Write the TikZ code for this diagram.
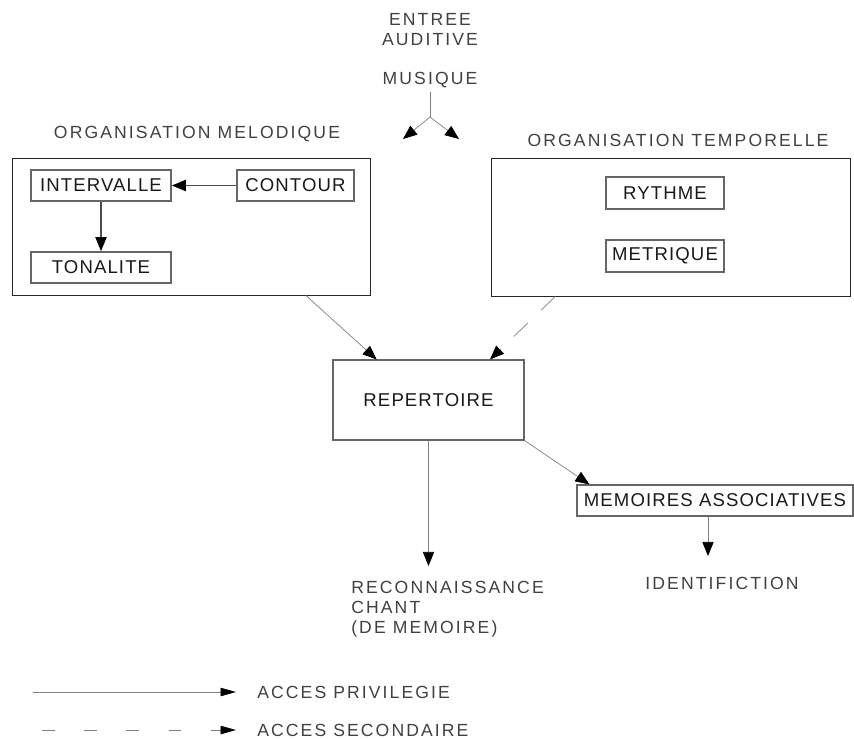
\documentclass[tikz,border=0pt]{standalone}
\usepackage{fontspec}
\setmainfont{Liberation Sans}
\newfontfamily\boxfont[LetterSpace=6]{Liberation Sans}
\newfontfamily\lblfont[LetterSpace=12]{Liberation Sans}
\usetikzlibrary{arrows.meta, calc}

\begin{document}
\begin{tikzpicture}[x=0.025cm, y=-0.025cm,
    box/.style={draw=black!60, line width=1.2pt, inner sep=0pt,
      font=\boxfont\fontsize{13.2}{15}\selectfont, text=black!90},
    frame/.style={draw=black!85, line width=0.6pt, inner sep=0pt},
    lbl/.style={inner sep=0pt, font=\lblfont\fontsize{12.5}{14.2}\selectfont, text=black!75},
    link/.style={draw=black!50, line width=0.5pt,
      -{Triangle[length=10pt, width=8pt, color=black]}},
    secondary/.style={link, dash pattern=on 14pt off 13pt}]
  \useasboundingbox (0,0) rectangle (854,738);

  % entree
  \node[lbl, align=center] (entree) at (430,30) {ENTREE\\AUDITIVE};
  \node[lbl] (musique) at (430,80) {MUSIQUE};
  \coordinate (fork) at (430,117);
  \coordinate (forkL) at (403,139);
  \coordinate (forkR) at (459,139);
  \draw[draw=black!50, line width=0.5pt] ($(musique.south)+(0,4)$) -- (fork);
  \draw[link] (fork) -- (forkL);
  \draw[link] (fork) -- (forkR);

  % organisation melodique
  \node[lbl] (melTitle) at (197,134) {ORGANISATION MELODIQUE};
  \node[frame, minimum width=8.95cm, minimum height=3.425cm] (melBox) at (191,226.5) {};
  \node[box, minimum width=3.5cm, minimum height=0.775cm] (intervalle) at (101,185.5) {INTERVALLE};
  \node[box, minimum width=2.925cm, minimum height=0.775cm] (contour) at (295.5,185.5) {CONTOUR};
  \node[box, minimum width=3.5cm, minimum height=0.775cm] (tonalite) at (101,267.5) {TONALITE};
  \draw[link, draw=black!70, line width=0.9pt] (contour.west) -- (intervalle.east);
  \draw[link, draw=black!70, line width=0.9pt] (intervalle.south) -- (tonalite.north);

  % organisation temporelle
  \node[lbl] (tempTitle) at (678,140) {ORGANISATION TEMPORELLE};
  \node[frame, minimum width=8.975cm, minimum height=3.45cm] (tempBox) at (670.5,227) {};
  \node[box, minimum width=2.95cm, minimum height=0.8cm] (rythme) at (665,193) {RYTHME};
  \node[box, minimum width=2.95cm, minimum height=0.8cm] (metrique) at (665,256) {METRIQUE};

  % repertoire
  \node[box, line width=0.8pt, minimum width=4.775cm, minimum height=2cm] (repertoire) at (428.5,400) {REPERTOIRE};
  \draw[link] ($(melBox.south west)!0.82!(melBox.south east)$)
    -- ($(repertoire.north west)!0.23!(repertoire.north east)$);
  \draw[secondary] ($(tempBox.south west)!0.18!(tempBox.south east)$)
    -- ($(repertoire.north west)!0.82!(repertoire.north east)$);

  % sorties
  \node[box, line width=0.8pt, minimum width=6.9cm, minimum height=0.775cm, inner xsep=1pt] (memoires) at (715,500.5) {MEMOIRES ASSOCIATIVES};
  \node[lbl] (identification) at (722,583) {IDENTIFICTION};
  \node[lbl, align=left, anchor=west] (reconnaissance) at (351,609) {RECONNAISSANCE\\CHANT\\(DE MEMOIRE)};
  \coordinate (recoTip) at (428.5,566);
  \coordinate (idTip) at (708,556);
  \draw[link] (repertoire.south) -- (recoTip);
  \draw[link] (repertoire.south east) -- ($(memoires.north west)!0.047!(memoires.north east)$);
  \draw[link] (memoires.south -| idTip) -- (idTip);

  % legende
  \coordinate (legA) at (33,692);
  \coordinate (legB) at (236,692);
  \coordinate (legC) at (42,730);
  \coordinate (legD) at (236,730);
  \draw[link, -{Triangle[length=11pt, width=6pt, color=black]}] (legA) -- (legB);
  \draw[link, dash pattern=on 9pt off 21pt, -{Triangle[length=11pt, width=6pt, color=black]}] (legC) -- (legD);
  \node[lbl, anchor=west] (privilegie) at (257,692) {ACCES PRIVILEGIE};
  \node[lbl, anchor=west] (secondaire) at (257,730) {ACCES SECONDAIRE};
\end{tikzpicture}
\end{document}
